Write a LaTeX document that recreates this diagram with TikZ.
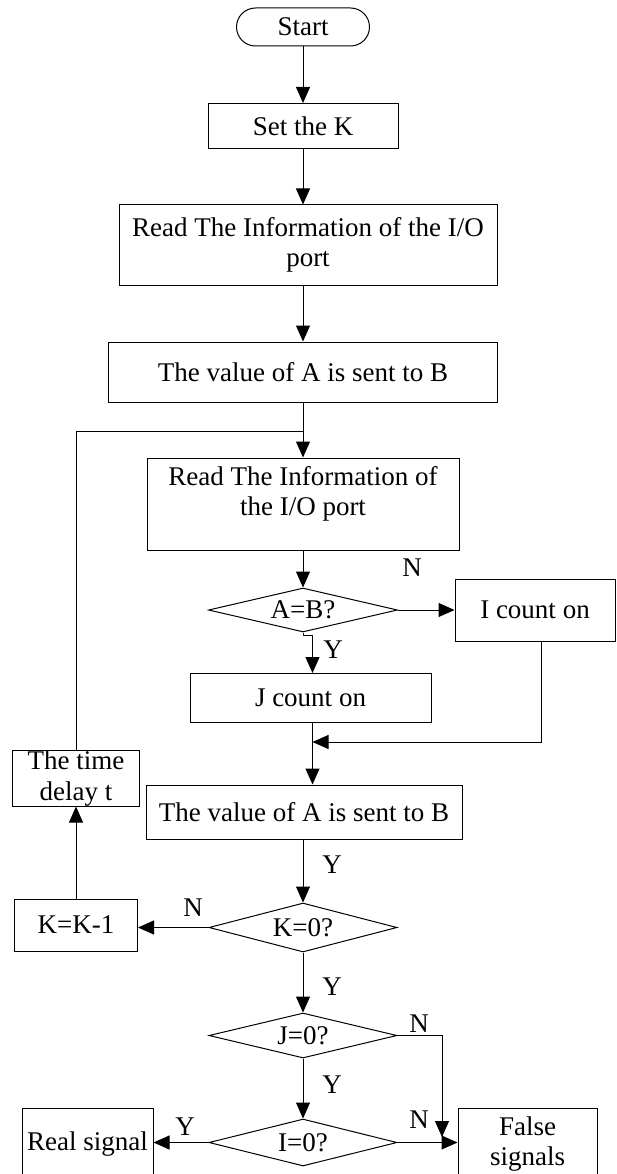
\documentclass[tikz,border=0pt]{standalone}
\usepackage{fontspec}
\setmainfont{Liberation Serif}
\usetikzlibrary{shapes.geometric,arrows.meta}
\begin{document}
\begin{tikzpicture}[x=1pt,y=-1pt,
  every node/.style={font=\fontsize{27}{30.5}\selectfont},
  box/.style={draw,line width=1pt,inner sep=0pt,align=center},
  dia/.style={draw,diamond,line width=1pt,inner sep=0pt,aspect=4},
  lbl/.style={inner sep=0pt},
  conn/.style={line width=1pt,-{Triangle[length=16pt,width=14pt]}},
  plain/.style={line width=1pt}]
\useasboundingbox (0,0) rectangle (616,1174);

% nodes
\node[box, rounded corners=19pt, minimum width=133pt, minimum height=38pt] (start) at (303,27) {Start};
\node[box, minimum width=190pt, minimum height=45pt] (setk) at (303,126) {Set the K};
\node[box, minimum width=378pt, minimum height=80pt] (read1) at (308,245) {Read The Information of the I/O\\port};
\node[box, minimum width=389pt, minimum height=60pt] (val1) at (303,372) {The value of A is sent to B};
\node[box, minimum width=312pt, minimum height=92pt] (read2) at (303,504) {};
\node[lbl, align=center, anchor=north] (read2t) at (303,466) {Read The Information of\\the I/O port};
\node[dia, minimum width=189pt, minimum height=44pt] (ab) at (303,610) {A=B?};
\node[box, minimum width=160pt, minimum height=62pt] (icount) at (535,610) {I count on};
\node[box, minimum width=241pt, minimum height=49pt] (jcount) at (310.5,697.5) {J count on};
\node[box, minimum width=316pt, minimum height=54pt] (val2) at (304,812) {The value of A is sent to B};
\node[box, minimum width=127pt, minimum height=53pt] (delay) at (76,778.5) {The time\\delay t};
\node[box, minimum width=123pt, minimum height=52pt] (kk) at (76,925) {K=K-1};
\node[dia, minimum width=188pt, minimum height=49pt] (k0) at (303,927.5) {K=0?};
\node[dia, minimum width=188pt, minimum height=45pt] (j0) at (303,1035.5) {J=0?};
\node[dia, minimum width=188pt, minimum height=47pt] (i0) at (303,1142.5) {I=0?};
\node[box, minimum width=131pt, minimum height=72pt] (real) at (87.5,1144) {Real signal};
\node[box, minimum width=139pt, minimum height=72pt] (false) at (527.5,1144) {False\\signals};

% labels
\node[lbl] (nab) at (412,568) {N};
\node[lbl] (yab) at (333,650) {Y};
\node[lbl] (yv) at (332,865) {Y};
\node[lbl] (nk) at (193,908) {N};
\node[lbl] (yk) at (332,987) {Y};
\node[lbl] (nj) at (419,1024) {N};
\node[lbl] (yj) at (332,1085) {Y};
\node[lbl] (yi) at (185,1127) {Y};
\node[lbl] (ni) at (419,1120) {N};

% coordinates
\coordinate (loopj) at (303,431);
\coordinate (abj) at (303,635);
\coordinate (jin) at (312.5,673);
\coordinate (icb) at (541,641);
\coordinate (merge) at (312.5,742);
\coordinate (jn) at (442,1035.5);
\coordinate (jnend) at (442,1137);

% connectors
\draw[conn] (start.south) -- (setk.north);
\draw[conn] (setk.south) -- (setk.south |- read1.north);
\draw[conn] (read1.south -| val1.north) -- (val1.north);
\draw[conn] (val1.south) -- (read2.north);
\draw[plain] (delay.north) -- (delay.north |- loopj) -- (loopj);
\draw[conn] (read2.south) -- (ab.north);
\draw[conn] (ab.east) -- (icount.west);
\draw[conn] (ab.south) -- (abj) -- (abj -| jin) -- (jin);
\draw[conn] (jcount.south -| jin) -- (val2.north -| jin);
\draw[conn] (icb) -- (icb |- merge) -- (merge);
\draw[conn] (val2.south -| k0.north) -- (k0.north);
\draw[conn] (k0.west) -- (k0.west -| kk.east);
\draw[conn] (kk.north) -- (delay.south);
\draw[conn] (k0.south) -- (j0.north);
\draw[conn] (j0.south) -- (i0.north);
\draw[conn] (j0.east) -- (jn) -- (jnend);
\draw[conn] (i0.east) -- (i0.east -| false.west);
\draw[conn] (i0.west) -- (i0.west -| real.east);
\end{tikzpicture}
\end{document}
